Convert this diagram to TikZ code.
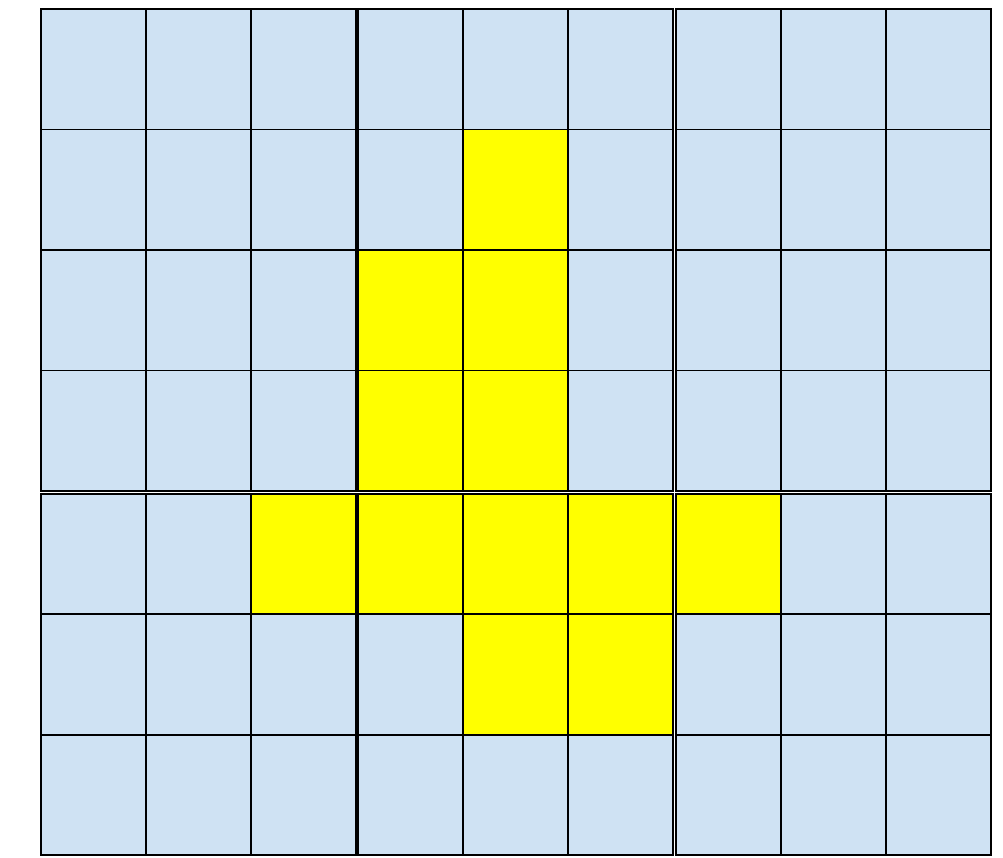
\documentclass[tikz,border=0pt]{standalone}
\definecolor{cellblue}{HTML}{CFE2F3}
\definecolor{cellyellow}{HTML}{FFFF00}
\tikzset{
  cell/.style={draw=black, line width=1.7pt, fill=cellblue},
  hotcell/.style={cell, fill=cellyellow}
}
\begin{document}
\begin{tikzpicture}[x=1pt,y=-1pt]
  \useasboundingbox (0,0) rectangle (1003,858);
  % six blocks of 3 columns, a top band of 4 rows and a bottom band of 3 rows
  \foreach \bx in {41,358,676}{
    \foreach \by/\h/\n in {9/120.5/3, 494/120.33/2}{
      \foreach \i in {0,1,2}{
        \foreach \j in {0,...,\n}{
          \draw[cell] (\bx+\i*105, \by+\j*\h) rectangle ++(105,\h);
        }
      }
    }
  }
  % yellow cells
  \foreach \x/\y/\h in {463/129.5/120.5, 358/250/120.5, 463/250/120.5,
                        358/370.5/120.5, 463/370.5/120.5,
                        251/494/120.33, 358/494/120.33, 463/494/120.33,
                        568/494/120.33, 676/494/120.33,
                        463/614.33/120.33, 568/614.33/120.33}{
    \draw[hotcell] (\x,\y) rectangle ++(105,\h);
  }
\end{tikzpicture}
\end{document}
